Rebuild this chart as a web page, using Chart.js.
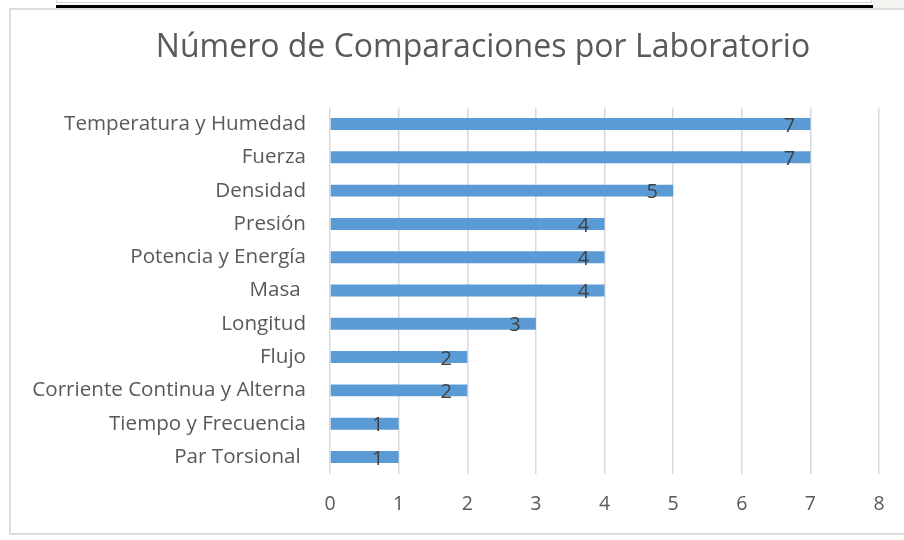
<!DOCTYPE html>
<html>
<head>
<meta charset="utf-8">
<script src="https://cdn.jsdelivr.net/npm/chart.js@4"></script>
<style>
  html, body { margin: 0; padding: 0; background: #ffffff; }
  body { width: 904px; height: 540px; position: relative; overflow: hidden; }
  #wrap { position: absolute; left: 0; top: 0; width: 904px; height: 540px; }
  .deco { position: absolute; pointer-events: none; box-sizing: border-box; }
</style>
</head>
<body>
<div class="deco" style="left:873px; top:0; width:31px; height:8px; background:#f6f4f0;"></div>
<div class="deco" style="left:56px; top:-2px; width:816px; height:5px; border:1px solid #d4d4d4; background:#fff;"></div>
<div class="deco" style="left:56px; top:5px; width:817px; height:3px; background:#000;"></div>
<div class="deco" style="left:9px; top:8px; width:900px; height:527px; border:2px solid #dcdcdc;"></div>
<div id="wrap"><canvas id="c" width="904" height="540"></canvas></div>
<script>
const titleText = "Número de Comparaciones por Laboratorio";
const categories = [
  "Temperatura y Humedad",
  "Fuerza",
  "Densidad",
  "Presión",
  "Potencia y Energía",
  "Masa ",
  "Longitud",
  "Flujo",
  "Corriente Continua y Alterna",
  "Tiempo y Frecuencia",
  "Par Torsional "
];
const values = [7, 7, 5, 4, 4, 4, 3, 2, 2, 1, 1];
const xTicks = [0, 1, 2, 3, 4, 5, 6, 7, 8];

const FONT = "'Open Sans', 'Noto Sans', sans-serif";

const titleAndLabels = {
  id: 'titleAndLabels',
  afterDraw(chart) {
    const ctx = chart.ctx;
    ctx.save();
    ctx.font = "32px " + FONT;
    ctx.fillStyle = "#595959";
    ctx.textAlign = "center";
    ctx.textBaseline = "middle";
    ctx.fillText(titleText, 483, 48);
    ctx.restore();
  },
  afterDatasetsDraw(chart) {
    const ctx = chart.ctx;
    const meta = chart.getDatasetMeta(0);
    ctx.save();
    ctx.font = "20px " + FONT;
    ctx.fillStyle = "#404040";
    ctx.textAlign = "center";
    ctx.textBaseline = "middle";
    meta.data.forEach((bar, i) => {
      ctx.fillText(String(values[i]), bar.x - 21, bar.y + 2);
    });
    ctx.restore();
  }
};

new Chart(document.getElementById('c'), {
  type: 'bar',
  data: {
    labels: categories,
    datasets: [{
      data: values,
      backgroundColor: '#5b9bd5',
      borderWidth: 0,
      barPercentage: 0.72,
      categoryPercentage: 0.5
    }]
  },
  options: {
    indexAxis: 'y',
    responsive: false,
    animation: false,
    devicePixelRatio: 1,
    layout: { padding: { left: 0, right: 25, top: 107.4, bottom: 0 } },
    plugins: {
      legend: { display: false },
      tooltip: { enabled: false },
      title: { display: false }
    },
    scales: {
      x: {
        min: 0,
        max: 8,
        afterBuildTicks(scale) { scale.ticks = xTicks.map(v => ({ value: v })); },
        grid: { color: '#d9d9d9', lineWidth: 1.5, drawTicks: false },
        border: { display: false },
        ticks: { color: '#595959', font: { family: FONT, size: 19.5 }, padding: 19 },
        afterFit(scale) { scale.height = 66.4; }
      },
      y: {
        grid: { display: false, drawTicks: false },
        border: { display: false },
        ticks: { color: '#595959', font: { family: FONT, size: 20.6 }, padding: 24, autoSkip: false },
        afterFit(scale) { scale.width = 330; }
      }
    }
  },
  plugins: [titleAndLabels]
});
</script>
</body>
</html>
